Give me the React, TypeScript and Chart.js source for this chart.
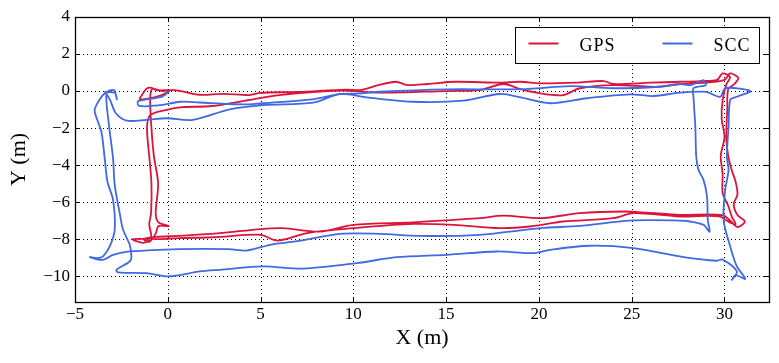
import React, { useEffect, useRef } from "react";
import { Chart, registerables } from "chart.js";
Chart.register(...registerables);

// ---- data (metres) ----
const seriesNames = ["GPS", "SCC"];
const seriesColors = ["#DC143C", "#4169E1"];
const xTicks = [-5, 0, 5, 10, 15, 20, 25, 30];
const yTicks = [-10, -8, -6, -4, -2, 0, 2, 4];
const xRange = [-5, 32.4];
const yRange = [-11.4, 4];
const xTitle = "X (m)";
const yTitle = "Y (m)";

const gpsTrack: number[][] = [
  [0.1, 0.0], [-0.4, -0.25], [-1.5, -0.45], [-1.35, -0.15], [-1.15, 0.12], [-0.9, 0.18], [-0.6, 0.05],
  [0.3, 0.05], [0.7, 0.0], [1.7, -0.2], [3.0, -0.15], [4.4, -0.22], [5.0, -0.1], [7.0, -0.05],
  [9.6, 0.08], [10.4, 0.05], [11.3, 0.3], [12.3, 0.5], [12.9, 0.32], [14.0, 0.38], [15.5, 0.5],
  [17.9, 0.45], [19.0, 0.5], [20.1, 0.41], [22.0, 0.45], [23.5, 0.54], [24.0, 0.38], [26.0, 0.45],
  [27.6, 0.5], [28.7, 0.54], [29.6, 0.6], [29.9, 0.95], [30.3, 0.75], [30.1, 0.35], [29.9, -0.5],
  [29.85, -1.5], [30.0, -2.5], [29.8, -3.5], [29.9, -4.5], [29.9, -5.5], [30.2, -6.2], [30.4, -6.8],
  [30.6, -7.2], [30.2, -7.05], [29.8, -6.8], [29.0, -6.75], [27.6, -6.78], [25.1, -6.6], [24.0, -6.87],
  [21.3, -7.05], [19.5, -7.32], [17.9, -7.41], [15.4, -7.23], [13.2, -7.18], [10.0, -7.41], [7.5, -7.68],
  [5.9, -8.08], [5.0, -7.77], [2.5, -7.9], [0.6, -7.95], [-0.5, -8.0], [-1.9, -8.0], [-1.3, -8.2],
  [-0.9, -7.9], [-1.0, -7.2], [-0.9, -6.6], [-0.88, -5.0], [-1.0, -3.5], [-1.12, -2.0], [-0.95, -1.3],
  [0.0, -1.0], [0.65, -0.88], [2.4, -0.81], [4.2, -0.52], [6.0, -0.22], [9.3, 0.02], [11.4, -0.09],
  [15.0, 0.0], [16.8, 0.05], [18.1, 0.38], [19.0, 0.1], [20.1, -0.13], [21.3, -0.22], [22.2, 0.15],
  [24.0, 0.32], [26.4, 0.23], [27.6, 0.38], [29.0, 0.45], [30.0, 0.6], [30.3, 0.95], [30.75, 0.7],
  [30.5, 0.35], [30.2, 0.1], [30.15, -1.0], [30.1, -2.5], [30.2, -3.5], [30.4, -4.3], [30.6, -4.9],
  [30.7, -5.6], [30.5, -6.1], [30.7, -6.7], [31.1, -7.05], [30.7, -7.35], [30.3, -7.0], [29.9, -6.7],
  [27.6, -6.69], [25.8, -6.57], [24.6, -6.51], [22.2, -6.6], [20.1, -6.87], [18.1, -6.73], [16.8, -6.87],
  [15.4, -6.96], [13.2, -7.1], [10.0, -7.23], [8.2, -7.59], [6.2, -7.41], [5.0, -7.46], [2.8, -7.68],
  [0.6, -7.83], [-0.6, -7.88], [-1.3, -8.0], [-1.0, -8.15], [-0.65, -7.7], [-0.5, -7.3], [0.05, -7.3],
  [-0.5, -7.1], [-0.65, -6.6], [-0.52, -5.0], [-0.75, -3.5], [-0.88, -2.0], [-0.95, -0.5], [-0.85, 0.1],
  [-0.3, 0.0], [0.1, 0.05],
];

const sccTrack: number[][] = [
  [0.1, 0.0], [-0.3, -0.3], [-1.6, -0.55], [-1.55, -0.8], [-0.5, -0.78], [0.7, -0.58], [1.7, -0.62],
  [3.3, -0.7], [4.4, -0.72], [5.1, -0.66], [7.8, -0.45], [9.3, -0.16], [10.4, -0.13], [11.4, -0.04],
  [15.0, 0.09], [17.9, 0.09], [19.5, 0.12], [21.7, 0.27], [24.0, 0.15], [26.5, 0.23], [27.6, 0.38],
  [28.2, 0.32], [28.87, 0.59], [29.0, 0.32], [28.33, 0.15], [28.33, -0.31], [28.43, -1.93], [28.48, -3.55],
  [28.6, -4.26], [28.87, -4.8], [29.06, -5.7], [29.1, -6.96], [29.2, -7.6], [28.87, -7.23], [28.16, -7.05],
  [27.6, -7.0], [24.9, -7.0], [22.2, -7.29], [20.1, -7.41], [16.8, -7.77], [13.6, -7.83], [11.4, -7.72],
  [9.3, -7.72], [6.9, -8.13], [5.7, -8.27], [4.24, -8.62], [3.3, -8.54], [0.65, -8.54], [-2.05, -8.67],
  [-2.95, -8.85], [-3.5, -9.12], [-4.2, -8.97], [-3.76, -9.03], [-3.49, -8.94], [-3.13, -8.4], [-2.86, -7.5],
  [-2.95, -5.88], [-3.25, -4.9], [-3.4, -3.63], [-3.58, -2.2], [-3.94, -1.12], [-3.85, -0.76], [-3.4, -0.13],
  [-2.85, -0.1], [-2.75, -0.45], [-2.9, 0.05], [-3.3, -0.1], [-3.17, -1.83], [-2.95, -3.63], [-2.86, -5.07],
  [-2.59, -6.6], [-2.41, -7.5], [-2.05, -8.31], [-1.96, -8.94], [-2.05, -9.21], [-2.77, -9.66], [-2.68, -9.8],
  [-1.15, -9.84], [0.02, -10.02], [1.73, -9.75], [2.8, -9.66], [5.14, -9.48], [7.3, -9.6], [10.18, -9.3],
  [12.33, -8.98], [15.03, -8.85], [17.73, -8.67], [19.7, -8.76], [20.6, -8.58], [22.76, -8.36], [25.1, -8.49],
  [27.8, -8.97], [29.6, -9.17], [29.9, -9.1], [30.67, -9.75], [30.4, -10.2], [30.6, -9.95], [31.12, -10.15],
  [30.67, -9.48], [30.31, -8.4], [29.95, -6.96], [30.04, -5.34], [30.22, -4.26], [30.13, -3.55], [30.22, -1.93],
  [30.31, -0.49], [30.67, -0.31], [31.4, -0.02], [31.0, 0.1], [30.04, 0.15], [29.77, -0.31], [29.0, -0.05],
  [27.6, -0.09], [26.18, -0.27], [24.92, -0.18], [22.58, -0.39], [20.6, -0.66], [19.0, -0.34], [17.9, -0.16],
  [15.93, -0.52], [13.23, -0.58], [10.72, -0.34], [9.28, -0.16], [7.84, -0.63], [5.14, -0.76], [3.34, -0.99],
  [1.35, -1.56], [-0.07, -1.47], [-1.15, -1.56], [-2.2, -1.6], [-2.8, -1.2], [-3.1, -0.5], [-3.4, 0.0],
];

const tracks = [gpsTrack, sccTrack];

const FONT = "'Liberation Serif', 'Times New Roman', serif";
const fmt = (v: number) => (v < 0 ? "\u2212" + Math.abs(v) : String(v));

const framePlugin = {
  id: "mplFrame",
  beforeDatasetsDraw(chart: any) {
    const { ctx, chartArea: a, scales } = chart;
    const x = scales.x, y = scales.y;
    ctx.save();
    ctx.strokeStyle = "#000";
    ctx.lineWidth = 1;
    ctx.setLineDash([1, 3]);
    for (const v of xTicks) {
      const px = Math.round(x.getPixelForValue(v)) + 0.5;
      if (px <= a.left + 1 || px >= a.right - 1) continue;
      ctx.beginPath(); ctx.moveTo(px, a.top); ctx.lineTo(px, a.bottom); ctx.stroke();
    }
    for (const v of yTicks) {
      const py = Math.round(y.getPixelForValue(v)) + 0.5;
      if (py <= a.top + 1 || py >= a.bottom - 1) continue;
      ctx.beginPath(); ctx.moveTo(a.left, py); ctx.lineTo(a.right, py); ctx.stroke();
    }
    ctx.restore();
  },
  afterDatasetsDraw(chart: any) {
    const { ctx, chartArea: a, scales } = chart;
    const x = scales.x, y = scales.y;
    const tl = 5;
    ctx.save();
    ctx.setLineDash([]);
    ctx.strokeStyle = "#000";
    ctx.lineWidth = 1;
    for (const v of xTicks) {
      const px = Math.round(x.getPixelForValue(v)) + 0.5;
      ctx.beginPath();
      ctx.moveTo(px, a.bottom); ctx.lineTo(px, a.bottom - tl);
      ctx.moveTo(px, a.top); ctx.lineTo(px, a.top + tl);
      ctx.stroke();
    }
    for (const v of yTicks) {
      const py = Math.round(y.getPixelForValue(v)) + 0.5;
      ctx.beginPath();
      ctx.moveTo(a.left, py); ctx.lineTo(a.left + tl, py);
      ctx.moveTo(a.right, py); ctx.lineTo(a.right - tl, py);
      ctx.stroke();
    }
    ctx.lineWidth = 1.3;
    ctx.strokeRect(Math.round(a.left) + 0.5, Math.round(a.top) + 0.5, Math.round(a.right - a.left), Math.round(a.bottom - a.top));
    // legend
    const bw = 244, bh = 36;
    const bx = Math.round(a.right) - 10 - bw + 0.5;
    const by = Math.round(a.top) + 10 + 0.5;
    ctx.fillStyle = "#fff";
    ctx.fillRect(bx, by, bw, bh);
    ctx.lineWidth = 1;
    ctx.strokeRect(bx, by, bw, bh);
    const entryX = [13, 147];
    ctx.font = `18px ${FONT}`;
    try { (ctx as any).letterSpacing = "1px"; } catch (e) {}
    ctx.textBaseline = "alphabetic";
    ctx.textAlign = "left";
    seriesNames.forEach((name, i) => {
      const lx = bx + entryX[i];
      ctx.strokeStyle = seriesColors[i];
      ctx.lineWidth = 2;
      ctx.beginPath(); ctx.moveTo(lx, by + 16); ctx.lineTo(lx + 30, by + 16); ctx.stroke();
      ctx.fillStyle = "#000";
      ctx.fillText(name, lx + 51, by + 23.5);
    });
    try { (ctx as any).letterSpacing = "0px"; } catch (e) {}
    ctx.restore();
  },
};

export default function App() {
  const ref = useRef<HTMLCanvasElement | null>(null);
  useEffect(() => {
    if (!ref.current) return;
    Chart.defaults.font.family = FONT;
    Chart.defaults.color = "#000";
    const chart = new Chart(ref.current, {
      type: "scatter",
      data: {
        datasets: tracks.map((t, i) => ({
          label: seriesNames[i],
          data: t.map(([x, y]) => ({ x, y })),
          showLine: true,
          borderColor: seriesColors[i],
          backgroundColor: seriesColors[i],
          borderWidth: 1.8,
          pointRadius: 0,
          pointHoverRadius: 0,
          tension: 0.3,
          order: i === 0 ? 1 : 0,
        })),
      },
      options: {
        animation: false,
        responsive: false,
        devicePixelRatio: 1,
        layout: { padding: { left: 0, right: 10, top: 17, bottom: 0 } },
        plugins: { legend: { display: false }, tooltip: { enabled: false } },
        scales: {
          x: {
            type: "linear",
            min: xRange[0],
            max: xRange[1],
            afterBuildTicks: (s: any) => { s.ticks = xTicks.map((v) => ({ value: v })); },
            afterFit: (s: any) => { s.height = 61; },
            grid: { display: false, drawTicks: false },
            border: { display: false },
            ticks: { font: { size: 17, family: FONT }, color: "#000", padding: 2, maxRotation: 0, autoSkip: false, callback: (v: any) => fmt(Number(v)) },
            title: { display: true, text: xTitle, font: { size: 22, family: FONT }, color: "#000", padding: { top: 0, bottom: 12 } },
          },
          y: {
            type: "linear",
            min: yRange[0],
            max: yRange[1],
            afterBuildTicks: (s: any) => { s.ticks = yTicks.map((v) => ({ value: v })); },
            afterFit: (s: any) => { s.width = 75; },
            grid: { display: false, drawTicks: false },
            border: { display: false },
            ticks: { font: { size: 17, family: FONT }, color: "#000", padding: 5, autoSkip: false, callback: (v: any) => fmt(Number(v)) },
            title: { display: true, text: yTitle, font: { size: 22, family: FONT }, color: "#000", padding: { top: 6, bottom: 0 } },
          },
        },
      },
      plugins: [framePlugin],
    });
    return () => chart.destroy();
  }, []);
  return (
    <div style={{ position: "absolute", left: 0, top: 0, width: 779, height: 363, background: "#fff" }}>
      <canvas ref={ref} width={779} height={363} style={{ display: "block" }} />
    </div>
  );
}
